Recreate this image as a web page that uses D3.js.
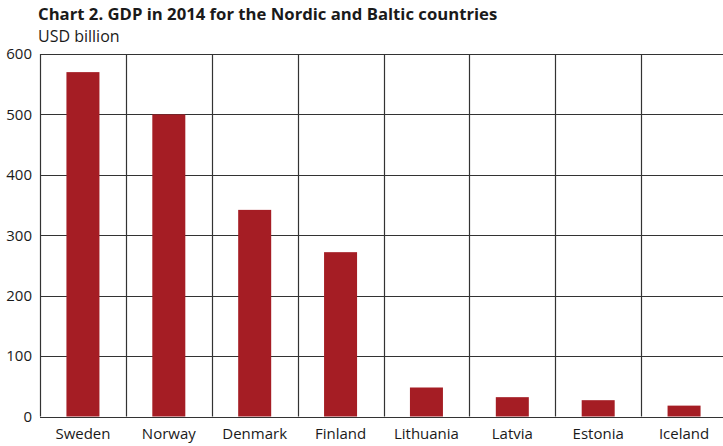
<!DOCTYPE html>
<html>
<head>
<meta charset="utf-8">
<script src="https://cdn.jsdelivr.net/npm/d3@7"></script>
<style>
	body { margin: 0; background: #fff; }
	text { font-family: "Open Sans", "Noto Sans", sans-serif; fill: #1a1a1a; }
</style>
</head>
<body>
<svg id="chart" width="723" height="446"></svg>
<script>
// Chart data
var countries = ["Sweden", "Norway", "Denmark", "Finland", "Lithuania", "Latvia", "Estonia", "Iceland"];
var gdp = [570, 500, 342, 272, 48, 32, 27, 18];
var yTicks = [0, 100, 200, 300, 400, 500, 600];

var svg = d3.select("#chart");

// plot area runs a little past the right edge, as in the original
var margin = {left: 40, top: 54, right: 727, bottom: 416.5};

var x = d3.scaleBand().domain(countries).range([margin.left, margin.right]).paddingInner(0).paddingOuter(0);
var y = d3.scaleLinear().domain([0, 600]).range([margin.bottom, margin.top]);

// Title
svg.append("text").attr("x", 38).attr("y", 20)
	.style("font-size", "16.7px").style("font-weight", "bold")
	.text("Chart 2. GDP in 2014 for the Nordic and Baltic countries");
svg.append("text").attr("x", 38).attr("y", 42)
	.style("font-size", "16px")
	.text("USD billion");

var grid = svg.append("g");

// Horizontal gridlines
grid.selectAll("line.h").data(yTicks).enter().append("line")
	.attr("x1", margin.left).attr("x2", margin.right)
	.attr("y1", function(d) { return Math.round(y(d)) + 0.5; })
	.attr("y2", function(d) { return Math.round(y(d)) + 0.5; })
	.attr("stroke", "#333").attr("stroke-width", 1.2);

// Vertical gridlines at category boundaries
grid.selectAll("line.v").data(countries).enter().append("line")
	.attr("x1", function(d) { return Math.round(x(d)) + 0.5; })
	.attr("x2", function(d) { return Math.round(x(d)) + 0.5; })
	.attr("y1", margin.top).attr("y2", margin.bottom)
	.attr("stroke", "#333").attr("stroke-width", 1.2);

// Bars
var bw = 33;
svg.append("g").selectAll("rect").data(gdp).enter().append("rect")
	.attr("x", function(d, i) { return x(countries[i]) + x.bandwidth() / 2 - bw / 2; })
	.attr("y", function(d) { return y(d); })
	.attr("width", bw)
	.attr("height", function(d) { return y(0) - y(d); })
	.attr("fill", "#a51d24");

// redraw baseline over bars
svg.append("line")
	.attr("x1", margin.left).attr("x2", margin.right)
	.attr("y1", Math.round(y(0)) + 0.5).attr("y2", Math.round(y(0)) + 0.5)
	.attr("stroke", "#333").attr("stroke-width", 1.2);

// Y axis labels
var yAxis = d3.axisLeft(y).tickValues(yTicks).tickSize(0).tickPadding(8);
var ya = svg.append("g").attr("transform", "translate(" + margin.left + ",0)").call(yAxis);
ya.select(".domain").remove();
ya.selectAll("text").style("font-size", "15px").attr("fill", "#1a1a1a")
	.style("font-family", "\"Open Sans\", \"Noto Sans\", sans-serif");

// X axis labels
var xAxis = d3.axisBottom(x).tickSize(0).tickPadding(12);
var xa = svg.append("g").attr("transform", "translate(0," + margin.bottom + ")").call(xAxis);
xa.select(".domain").remove();
xa.selectAll("text").style("font-size", "15px").attr("fill", "#1a1a1a")
	.style("font-family", "\"Open Sans\", \"Noto Sans\", sans-serif");
</script>
</body>
</html>
